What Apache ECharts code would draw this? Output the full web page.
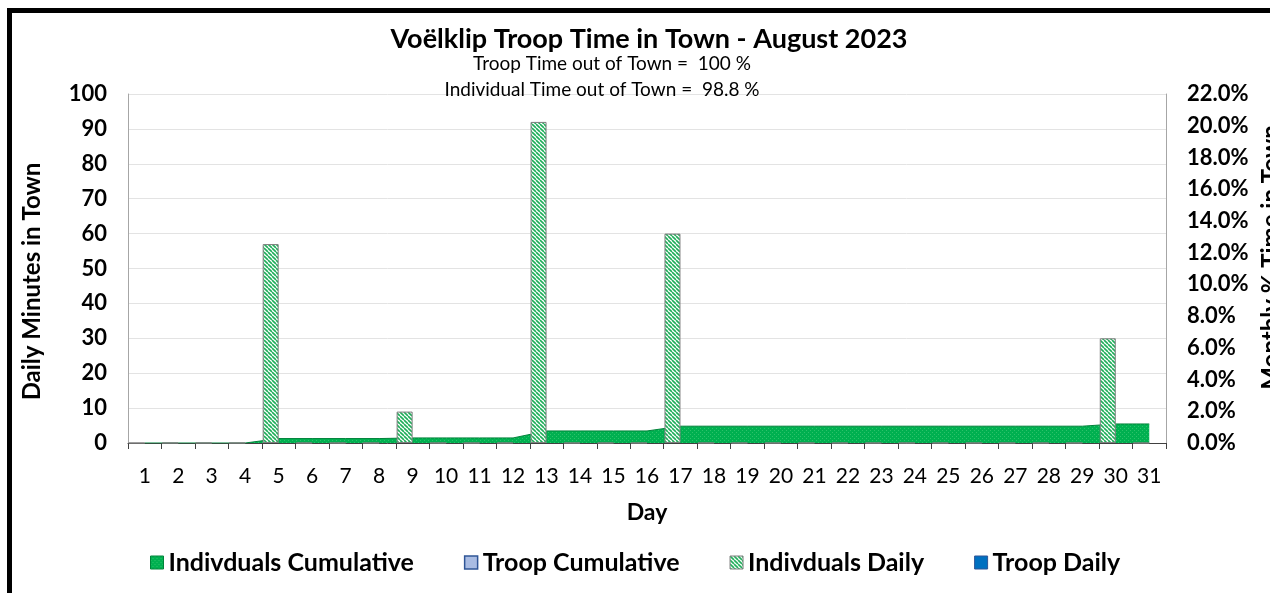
<!DOCTYPE html>
<html>
<head>
<meta charset="utf-8">
<script src="https://cdn.jsdelivr.net/npm/echarts@6/dist/echarts.min.js"></script>
<style>
  html, body { margin: 0; padding: 0; background: #fff; }
  #chart { width: 1270px; height: 593px; }
</style>
</head>
<body>
<div id="chart"></div>
<script>
// day labels on the x axis
const days = ['1', '2', '3', '4', '5', '6', '7', '8', '9', '10', '11', '12', '13', '14', '15', '16',
  '17', '18', '19', '20', '21', '22', '23', '24', '25', '26', '27', '28', '29', '30', '31']
// daily minutes in town (left axis)
const indivDaily = [0, 0, 0, 0, 57, 0, 0, 0, 9, 0, 0, 0, 92, 0, 0, 0, 60, 0, 0, 0, 0, 0, 0, 0, 0, 0, 0, 0, 0, 30, 0]
const troopDaily = [0, 0, 0, 0, 0, 0, 0, 0, 0, 0, 0, 0, 0, 0, 0, 0, 0, 0, 0, 0, 0, 0, 0, 0, 0, 0, 0, 0, 0, 0, 0]
// monthly cumulative % in town (right axis)
const indivCum = [0, 0, 0, 0, 0.28, 0.28, 0.28, 0.28, 0.32, 0.32, 0.32, 0.32, 0.76, 0.76, 0.76, 0.76,
  1.06, 1.06, 1.06, 1.06, 1.06, 1.06, 1.06, 1.06, 1.06, 1.06, 1.06, 1.06, 1.06, 1.2, 1.2]
const troopCum = [0, 0, 0, 0, 0, 0, 0, 0, 0, 0, 0, 0, 0, 0, 0, 0, 0, 0, 0, 0, 0, 0, 0, 0, 0, 0, 0, 0, 0, 0, 0]

const FONT = 'Lato'

function hatchPattern() {
  const c = document.createElement('canvas')
  c.width = 4
  c.height = 4
  const g = c.getContext('2d')
  g.fillStyle = '#ffffff'
  g.fillRect(0, 0, 4, 4)
  g.strokeStyle = '#1fae5a'
  g.lineWidth = 1.6
  g.beginPath()
  for (const o of [-4, 0, 4]) {
    g.moveTo(o, 0)
    g.lineTo(o + 4, 4)
  }
  g.stroke()
  return { image: c, repeat: 'repeat' }
}

function dotPattern() {
  const c = document.createElement('canvas')
  c.width = 4
  c.height = 4
  const g = c.getContext('2d')
  g.fillStyle = '#00b050'
  g.fillRect(0, 0, 4, 4)
  g.fillStyle = '#2cc26a'
  g.fillRect(0, 0, 1, 1)
  g.fillRect(2, 2, 1, 1)
  return { image: c, repeat: 'repeat' }
}

const hatch = hatchPattern()
const dots = dotPattern()

const chart = echarts.init(document.getElementById('chart'))
chart.setOption({
  animation: false,
  title: [
    {
      text: 'Voëlklip Troop Time in Town - August 2023',
      left: 644,
      top: 21,
      textAlign: 'center',
      textStyle: { fontFamily: FONT, fontSize: 27, fontWeight: 'bold', color: '#000' },
    },
    {
      text: 'Troop Time out of Town =  100 %',
      left: 607,
      top: 49,
      textAlign: 'center',
      textStyle: { fontFamily: FONT, fontSize: 19, fontWeight: 'normal', color: '#000' },
    },
    {
      text: 'Individual Time out of Town =  98.8 %',
      left: 597,
      top: 75,
      textAlign: 'center',
      textStyle: { fontFamily: FONT, fontSize: 19, fontWeight: 'normal', color: '#000' },
    },
  ],
  graphic: [
    {
      type: 'rect',
      shape: { x: 9.5, y: 10.5, width: 1400, height: 800 },
      style: { fill: 'none', stroke: '#000', lineWidth: 5 },
      silent: true,
    },
  ],
  legend: {
    bottom: 13,
    left: 145,
    itemWidth: 13,
    itemHeight: 13,
    itemGap: 50,
    icon: 'rect',
    textStyle: { fontFamily: FONT, fontSize: 25, fontWeight: 'bold', color: '#000' },
    data: [
      { name: 'Indivduals Cumulative', itemStyle: { color: dots, borderColor: '#00833a', borderWidth: 1 } },
      { name: 'Troop Cumulative', itemStyle: { color: '#a9bce3', borderColor: '#2f5597', borderWidth: 1.5 } },
      { name: 'Indivduals Daily', itemStyle: { color: hatch, borderColor: '#7f7f7f', borderWidth: 1 } },
      { name: 'Troop Daily', itemStyle: { color: '#0070c0', borderColor: '#2f5597', borderWidth: 1 } },
    ],
  },
  grid: { left: 128, right: 104, top: 94, bottom: 150, outerBoundsMode: 'none' },
  xAxis: {
    type: 'category',
    data: days,
    boundaryGap: true,
    name: 'Day',
    nameLocation: 'middle',
    nameGap: 58,
    nameTextStyle: { fontFamily: FONT, fontSize: 23, fontWeight: 'bold', color: '#000' },
    axisLine: { lineStyle: { color: '#404040', width: 1 } },
    axisTick: { show: true, interval: 0, length: 6, lineStyle: { color: '#404040' } },
    axisLabel: { interval: 0, margin: 23, fontFamily: FONT, fontSize: 21, color: '#000' },
  },
  yAxis: [
    {
      type: 'value',
      min: 0,
      max: 100,
      interval: 10,
      name: 'Daily Minutes in Town',
      nameLocation: 'middle',
      nameRotate: 90,
      nameGap: 84,
      nameTextStyle: { fontFamily: FONT, fontSize: 24, fontWeight: 'bold', color: '#000', padding: [0, 26, 0, 0] },
      axisLine: { show: true, lineStyle: { color: '#a6a6a6' } },
      axisTick: { show: false },
      axisLabel: { margin: 21, fontFamily: FONT, fontSize: 22, fontWeight: 'bold', color: '#000' },
      splitLine: { show: true, lineStyle: { color: '#e3e3e3' } },
    },
    {
      type: 'value',
      min: 0,
      max: 22,
      interval: 2,
      position: 'right',
      name: 'Monthly % Time in Town',
      nameLocation: 'middle',
      nameRotate: 90,
      nameGap: 76,
      nameTextStyle: { fontFamily: FONT, fontSize: 24, fontWeight: 'bold', color: '#000', padding: [0, 0, 0, 22] },
      axisLine: { show: true, lineStyle: { color: '#a6a6a6' } },
      axisTick: { show: false },
      axisLabel: {
        margin: 21,
        fontFamily: FONT,
        fontSize: 22,
        fontWeight: 'bold',
        color: '#000',
        formatter: (v) => v.toFixed(1) + '%',
      },
      splitLine: { show: false },
    },
  ],
  series: [
    {
      name: 'Indivduals Cumulative',
      type: 'line',
      yAxisIndex: 1,
      data: indivCum,
      showSymbol: false,
      symbol: 'none',
      lineStyle: { color: '#00833a', width: 1 },
      itemStyle: { color: dots },
      areaStyle: { color: dots, opacity: 1 },
      z: 1,
    },
    {
      name: 'Troop Cumulative',
      type: 'line',
      yAxisIndex: 1,
      data: troopCum,
      showSymbol: false,
      symbol: 'none',
      lineStyle: { width: 0, color: '#2f5597' },
      itemStyle: { color: '#a9bce3' },
      areaStyle: { color: '#a9bce3', opacity: 1 },
      z: 1,
    },
    {
      name: 'Indivduals Daily',
      type: 'bar',
      yAxisIndex: 0,
      data: indivDaily,
      barWidth: 16,
      barGap: '0%',
      itemStyle: { color: hatch, borderColor: '#7f7f7f', borderWidth: 1 },
      z: 3,
    },
    {
      name: 'Troop Daily',
      type: 'bar',
      yAxisIndex: 0,
      data: troopDaily,
      barWidth: 16,
      barGap: '0%',
      itemStyle: { color: '#0070c0' },
      z: 3,
    },
  ],
})
</script>
</body>
</html>
